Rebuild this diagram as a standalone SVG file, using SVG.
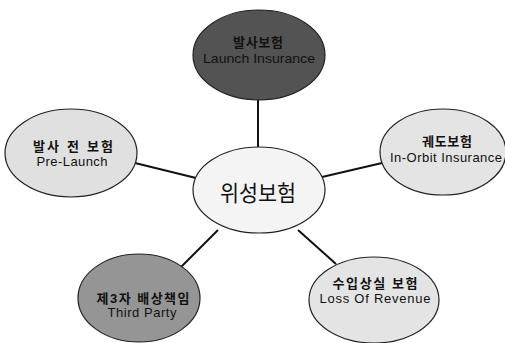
<svg xmlns="http://www.w3.org/2000/svg" width="505" height="343" viewBox="0 0 505 343">
<defs>
<style>
.node{stroke:#222;stroke-width:1.2}
.ko{font-family:"Liberation Sans","Noto Sans CJK KR",sans-serif;font-size:13px;font-weight:bold;fill:#111;text-anchor:middle}
.en{font-family:"Liberation Sans","Noto Sans CJK KR",sans-serif;font-size:13px;fill:#111;text-anchor:middle}
.conn{stroke:#111;stroke-width:2;fill:none}
</style>
</defs>
<rect width="505" height="343" fill="#fff"/>
<g id="connectors">
<line class="conn" x1="258" y1="100" x2="258" y2="147"/>
<line class="conn" x1="135" y1="163" x2="196" y2="178"/>
<line class="conn" x1="322" y1="177" x2="382" y2="163"/>
<line class="conn" x1="218" y1="230" x2="181" y2="267"/>
<line class="conn" x1="298" y1="230" x2="336" y2="264"/>
</g>
<g id="launch">
<ellipse class="node" cx="259" cy="55" rx="66" ry="45" fill="#535353"/>
<text class="ko" x="258" y="47" textLength="50" lengthAdjust="spacing">발사보험</text>
<text class="en" x="259" y="63" textLength="112" lengthAdjust="spacingAndGlyphs">Launch Insurance</text>
</g>
<g id="prelaunch">
<ellipse class="node" cx="71" cy="153" rx="66" ry="44" fill="#e0e0e0"/>
<text class="ko" x="73" y="151" textLength="80" lengthAdjust="spacing">발사 전 보험</text>
<text class="en" x="72" y="166" textLength="71" lengthAdjust="spacing">Pre-Launch</text>
</g>
<g id="inorbit">
<ellipse class="node" cx="443" cy="152" rx="63" ry="43" fill="#e4e4e4"/>
<text class="ko" x="447" y="146" textLength="50" lengthAdjust="spacing">궤도보험</text>
<text class="en" x="446" y="162" textLength="112" lengthAdjust="spacing">In-Orbit Insurance</text>
</g>
<g id="center">
<ellipse class="node" cx="259" cy="190" rx="66" ry="43" fill="#f4f4f4"/>
<text x="258" y="201" font-family="'Liberation Sans','Noto Sans CJK KR',sans-serif" font-size="22" fill="#111" text-anchor="middle" textLength="76" lengthAdjust="spacingAndGlyphs">위성보험</text>
</g>
<g id="thirdparty">
<ellipse class="node" cx="139" cy="298" rx="61" ry="44" fill="#959595"/>
<text class="ko" x="143" y="303" textLength="93" lengthAdjust="spacing">제3자 배상책임</text>
<text class="en" x="142" y="317" textLength="69" lengthAdjust="spacing">Third Party</text>
</g>
<g id="lossrevenue">
<ellipse class="node" cx="374" cy="300" rx="65" ry="43" fill="#e4e4e4"/>
<text class="ko" x="375" y="288" textLength="85" lengthAdjust="spacing">수입상실 보험</text>
<text class="en" x="375" y="303" textLength="111" lengthAdjust="spacing">Loss Of Revenue</text>
</g>
</svg>
